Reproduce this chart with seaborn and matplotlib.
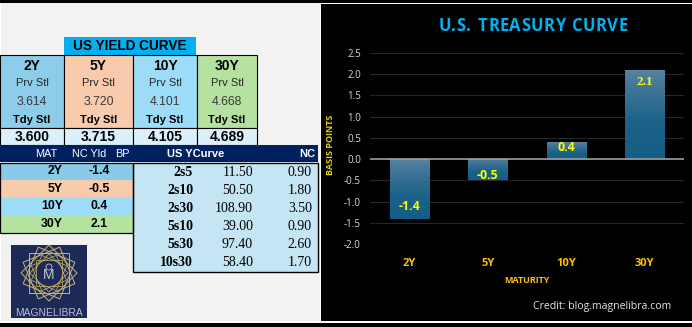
import numpy as np
import pandas as pd
import matplotlib
matplotlib.use("Agg")
import matplotlib.pyplot as plt
from matplotlib.patches import Rectangle, Polygon, Circle
from matplotlib.colors import LinearSegmentedColormap
import seaborn as sns

# ---- data -----------------------------------------------------------------
tenors = ["2Y", "5Y", "10Y", "30Y"]
prev_settle = [3.614, 3.720, 4.101, 4.668]
today_settle = [3.600, 3.715, 4.105, 4.689]
net_change_bp = [-1.4, -0.5, 0.4, 2.1]

spread_names = ["2s5", "2s10", "2s30", "5s10", "5s30", "10s30"]
spread_values = [11.50, 50.50, 108.90, 39.00, 97.40, 58.40]
spread_change = [0.90, 1.80, 3.50, 0.90, 2.60, 1.70]

# ---- style ----------------------------------------------------------------
sns.set_theme(style="dark")
plt.rcParams["font.family"] = ["Liberation Sans", "DejaVu Sans"]
SANS = ["Open Sans", "DejaVu Sans"]
SERIF = ["Liberation Serif", "DejaVu Serif"]

W, H = 692, 327
fig = plt.figure(figsize=(W / 100, H / 100), dpi=100)
fig.patch.set_facecolor("black")

# canvas in pixel units for the settlement table and frame
bg = fig.add_axes([0, 0, 1, 1])
bg.set_xlim(0, W)
bg.set_ylim(H, 0)
bg.axis("off")


def rect(x0, y0, x1, y1, fc, ec="none", lw=0.0, z=1):
    bg.add_patch(Rectangle((x0, y0), x1 - x0, y1 - y0, facecolor=fc,
                           edgecolor=ec, linewidth=lw, zorder=z))


def txt(x, y, s, size=8, weight="normal", color="black", ha="center",
        family=None, z=5):
    kw = {}
    if family:
        kw["family"] = family
    bg.text(x, y, s, fontsize=size, fontweight=weight, color=color, ha=ha,
            va="center", zorder=z, **kw)


def spaced_text(xc, yc, s, tracking, **kw):
    """Draw a string centred at pixel (xc, yc) with extra letter spacing."""
    r = fig.canvas.get_renderer()
    widths = []
    for ch in s:
        t = bg.text(0, 0, ch if ch != " " else "a", **kw)
        widths.append(t.get_window_extent(r).width if ch != " " else
                      0.6 * t.get_window_extent(r).width)
        t.remove()
    total = sum(widths) + tracking * (len(s) - 1)
    x = xc - total / 2
    for ch, w in zip(s, widths):
        if ch != " ":
            bg.text(x, yc, ch, ha="left", va="center", zorder=6, **kw)
        x += w + tracking


# frame
rect(0, 3, W, 323, "white", z=0)
rect(1, 3, 320, 321, "#f2f2f2", z=0.5)
rect(321, 4, W, 321, "black", z=0.5)

# header banner
rect(64, 37, 196, 55, "#00b0f0", z=1)
txt(130, 46.5, "US YIELD CURVE", size=9.8, weight="bold")

# settlement columns
col_edges = [0, 64, 133, 197, 257]
col_colors = ["#8dcde9", "#f8cbad", "#9ddcf6", "#b6e2a1"]
for i, t in enumerate(tenors):
    x0, x1 = col_edges[i], col_edges[i + 1]
    xc = (x0 + x1) / 2
    rect(x0, 55, x1, 128, col_colors[i], ec="black", lw=0.8, z=1)
    rect(x0, 128, x1, 145, "#dcf0fb", ec="black", lw=0.8, z=1)
    txt(xc, 65.5, t, size=10, weight="bold")
    txt(xc, 83.5, "Prv Stl", size=8, color="#262626")
    txt(xc, 102, f"{prev_settle[i]:.3f}", size=8.8, color="#3a3a3a")
    txt(xc, 120, "Tdy Stl", size=8, weight="bold")
    txt(xc, 137, f"{today_settle[i]:.3f}", size=10, weight="bold")

# navy header band
rect(0, 145, 318, 162, "#002060", z=2)
txt(57, 154, "MAT", size=7.8, color="white", ha="right")
txt(72, 154, "NC Yld", size=7.8, color="white", ha="left")
txt(115, 154, "BP", size=7.8, color="white", ha="left")
txt(167, 154, "US YCurve", size=8, color="white", ha="left", weight="bold")
txt(315, 154, "NC", size=8, color="white", ha="right", weight="bold")

# net change rows
row_edges = [163, 180, 197, 215, 233]
row_colors = ["#87cbe8", "#f8cbad", "#9ddcf7", "#b4e3a0"]
for i, t in enumerate(tenors):
    y0, y1 = row_edges[i], row_edges[i + 1]
    yc = (y0 + y1) / 2
    rect(0, y0, 133, y1, row_colors[i], z=1)
    txt(63, yc, t, size=8.8, weight="bold", ha="right")
    txt(99, yc, f"{net_change_bp[i]:.1f}", size=8.8, weight="bold")
rect(0, 163, 133, 233, "none", ec="black", lw=0.9, z=3)

# curve spread table
rect(133, 163, 318, 272, "#c5e5f5", ec="black", lw=1.0, z=2)
for i, name in enumerate(spread_names):
    yc = 172 + 18 * i
    txt(193, yc, name, size=10, weight="bold", ha="right", family=SERIF)
    txt(253, yc, f"{spread_values[i]:.2f}", size=10, ha="right", family=SERIF)
    txt(312, yc, f"{spread_change[i]:.2f}", size=10, ha="right", family=SERIF)

# brand mark
rect(11, 245, 87, 318, "#1d2a57", z=2)
cx, cy, r = 49, 273, 28
gold = "#cdb66e"
for k in range(4):
    a0 = np.deg2rad(22.5 * k)
    ang = a0 + np.arange(4) * np.pi / 2 + np.pi / 4
    pts = np.c_[cx + r * np.cos(ang), cy + r * np.sin(ang)]
    bg.add_patch(Polygon(pts, closed=True, fill=False, edgecolor=gold,
                         linewidth=0.7, zorder=3))
    pts2 = np.c_[cx + 0.68 * r * np.cos(ang), cy + 0.68 * r * np.sin(ang)]
    bg.add_patch(Polygon(pts2, closed=True, fill=False, edgecolor=gold,
                         linewidth=0.5, zorder=3))
bg.add_patch(Circle((cx, cy - 6), 3, fill=False, edgecolor="#c9c9d6",
                    linewidth=0.6, zorder=4))
txt(cx, cy + 2, "M", size=10, color="#c9c9d6", z=4)
txt(cx, 312.5, "MAGNELIBRA", size=7.4, color="#b9bccf", z=4)

# ---- treasury curve chart ---------------------------------------------------
df = pd.DataFrame({"Maturity": tenors, "Change": net_change_bp})

ax = fig.add_axes([370 / W, 1 - 244 / H, 314 / W, 191 / H])
ax.set_facecolor("black")
sns.barplot(data=df, x="Maturity", y="Change", order=tenors, width=0.5,
            color="#1a5f86", edgecolor="none", saturation=1, ax=ax,
            zorder=3)

# vertical shading on each bar: lighter toward the top edge
shade = LinearSegmentedColormap.from_list(
    "bar_shade", ["#5a84a1", "#3d7396", "#1c6289", "#135e87"])
grad = np.linspace(0, 1, 128).reshape(-1, 1) ** 0.8
for p in ax.patches:
    x0, y0 = p.get_x(), p.get_y()
    w, h = p.get_width(), p.get_height()
    ylo, yhi = min(y0, y0 + h), max(y0, y0 + h)
    im = ax.imshow(grad, cmap=shade, aspect="auto", origin="upper",
                   extent=[x0, x0 + w, ylo, yhi], zorder=4)
    im.set_clip_path(p)

for i, v in enumerate(net_change_bp):
    s = 1 if v > 0 else -1
    y = v - s * 0.28 if abs(v) >= 0.6 else v - s * 0.12
    big = v > 2
    ax.text(i, y, f"{v:.1f}", ha="center", va="center", color="#ffff00",
            fontsize=9.5 if big else 8.8, fontweight="bold", zorder=6,
            family=SERIF if big else SANS)

ax.set_xlim(-0.5, 3.5)
ax.set_ylim(-2.0, 2.5)
ticks = np.arange(-2.0, 2.51, 0.5)
ax.set_yticks(ticks)
ax.set_yticklabels([f"{t:.1f}" for t in ticks])
ax.grid(axis="y", color="#262626", linewidth=0.8, zorder=0)
ax.grid(axis="x", visible=False)
ax.axhline(0, color="#a6a6a6", linewidth=1.1, zorder=5)
for s in ax.spines.values():
    s.set_visible(False)
ax.tick_params(axis="y", colors="#d9d9d9", labelsize=7, length=0, pad=6.5)
ax.tick_params(axis="x", colors="#ffc000", labelsize=8, length=0, pad=10)
for lab in ax.get_yticklabels():
    lab.set_family(SANS)
for lab in ax.get_xticklabels():
    lab.set_family(SANS)
    lab.set_fontweight("bold")
ax.set_xlabel("MATURITY", color="#ffc000", fontsize=6.5, fontweight="bold",
              labelpad=5, family=SANS)
ax.set_ylabel("BASIS POINTS", color="#e6d200", fontsize=6.5,
              fontweight="bold", family=SANS)
ax.yaxis.set_label_coords((335 - 370) / 314, (244 - 145) / 191)

spaced_text(533, 26, "U.S. TREASURY CURVE", 0.4, color="#00b0f0",
            fontsize=12, fontweight="bold", family=SANS)
fig.text(671 / W, 1 - 306 / H, "Credit: blog.magnelibra.com", ha="right",
         va="center", color="#e6e6e6", fontsize=7.6, family=SANS)

fig.savefig("out.png", dpi=100, facecolor=fig.get_facecolor())
